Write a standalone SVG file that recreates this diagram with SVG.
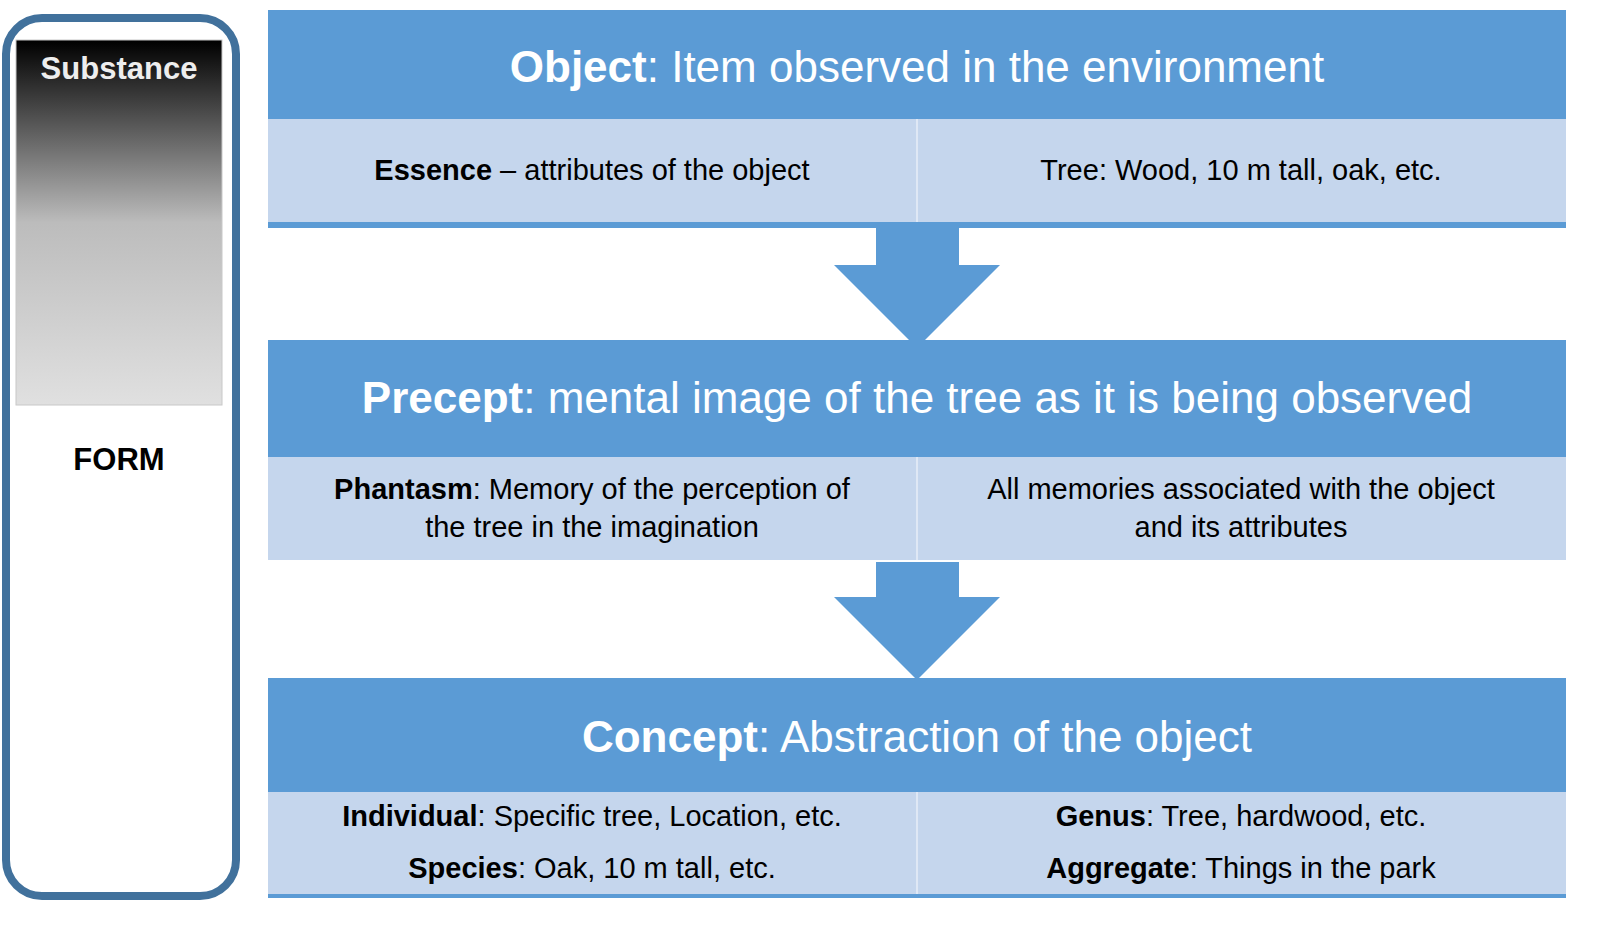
<svg xmlns="http://www.w3.org/2000/svg" width="1609" height="934" viewBox="0 0 1609 934">
<style>
.hd{fill:#5b9bd5}.rw{fill:#c5d6ed}.ln{stroke:#dfe8f5;stroke-width:2}
text{font-family:"Liberation Sans",Arial,sans-serif;text-anchor:middle}
.h{font-size:44px;fill:#fff}.b{font-size:29px;fill:#000}
</style>
<defs><linearGradient id="g" x1="0" y1="0" x2="0" y2="1"><stop offset="0" stop-color="#000"/><stop offset="0.5" stop-color="#bcbcbc"/><stop offset="1" stop-color="#e0e0e0"/></linearGradient></defs>
<g id="side">
<rect x="6" y="18" width="230" height="878" rx="36" fill="#fff" stroke="#41719c" stroke-width="8"/>
<rect x="16" y="40" width="206" height="365" fill="url(#g)" stroke="#c8c8c8"/>
<text x="119" y="79" font-size="31" font-weight="bold" fill="#eee">Substance</text>
<text x="119" y="470" font-size="31" font-weight="bold">FORM</text>
</g>
<g id="connectors">
<polygon points="876,228 959,228 959,265 1000,265 917,348 834,265 876,265" fill="#5b9bd5"/>
<polygon points="876,562 959,562 959,597 1000,597 917,680 834,597 876,597" fill="#5b9bd5"/>
</g>
<g id="object">
<rect class="hd" x="268" y="10" width="1298" height="109"/>
<rect class="rw" x="268" y="119" width="1298" height="103"/>
<rect class="hd" x="268" y="222" width="1298" height="6"/>
<line class="ln" x1="917" y1="119" x2="917" y2="222"/>
<text class="h" x="917" y="82"><tspan font-weight="bold">Object</tspan>: Item observed in the environment</text>
<text class="b" x="592" y="180"><tspan font-weight="bold">Essence</tspan> – attributes of the object</text>
<text class="b" x="1241" y="180">Tree: Wood, 10 m tall, oak, etc.</text>
</g>
<g id="precept">
<rect class="hd" x="268" y="340" width="1298" height="117"/>
<rect class="rw" x="268" y="457" width="1298" height="103"/>
<line class="ln" x1="917" y1="457" x2="917" y2="560"/>
<text class="h" x="917" y="413"><tspan font-weight="bold">Precept</tspan>: mental image of the tree as it is being observed</text>
<text class="b" x="592" y="499"><tspan font-weight="bold">Phantasm</tspan>: Memory of the perception of</text>
<text class="b" x="592" y="537">the tree in the imagination</text>
<text class="b" x="1241" y="499">All memories associated with the object</text>
<text class="b" x="1241" y="537">and its attributes</text>
</g>
<g id="concept">
<rect class="hd" x="268" y="678" width="1298" height="114"/>
<rect class="rw" x="268" y="792" width="1298" height="103"/>
<rect class="hd" x="268" y="894" width="1298" height="4"/>
<line class="ln" x1="917" y1="792" x2="917" y2="894"/>
<text class="h" x="917" y="752"><tspan font-weight="bold">Concept</tspan>: Abstraction of the object</text>
<text class="b" x="592" y="826"><tspan font-weight="bold">Individual</tspan>: Specific tree, Location, etc.</text>
<text class="b" x="592" y="878"><tspan font-weight="bold">Species</tspan>: Oak, 10 m tall, etc.</text>
<text class="b" x="1241" y="826"><tspan font-weight="bold">Genus</tspan>: Tree, hardwood, etc.</text>
<text class="b" x="1241" y="878"><tspan font-weight="bold">Aggregate</tspan>: Things in the park</text>
</g>
</svg>
